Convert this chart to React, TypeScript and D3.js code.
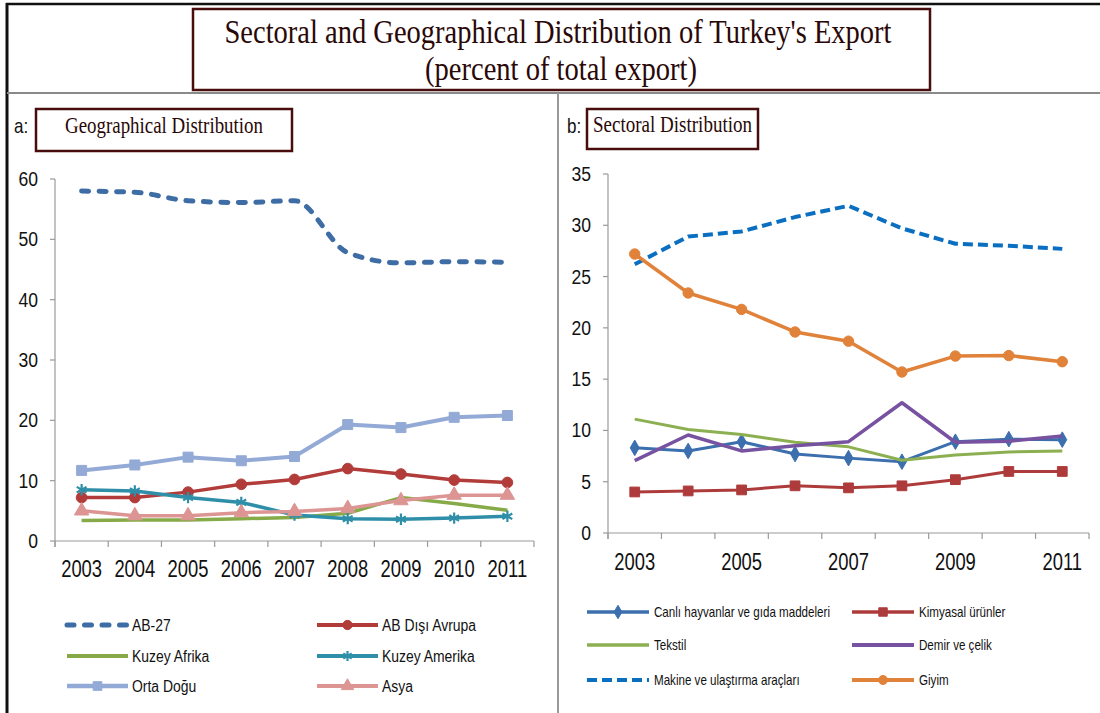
import React from "react";
import * as d3 from "d3";

// years shared by both panels
const years = ["2003", "2004", "2005", "2006", "2007", "2008", "2009", "2010", "2011"];

// a: geographical distribution (% of total export)
const geoAB27 = [58.0, 57.8, 56.4, 56.1, 56.4, 47.8, 46.1, 46.3, 46.2];
const geoABDisi = [7.2, 7.2, 8.1, 9.4, 10.2, 12.0, 11.1, 10.1, 9.7];
const geoKuzeyAfrika = [3.4, 3.5, 3.5, 3.7, 3.9, 4.6, 7.2, 6.2, 5.1];
const geoKuzeyAmerika = [8.5, 8.3, 7.2, 6.4, 4.3, 3.7, 3.6, 3.8, 4.1];
const geoOrtaDogu = [11.7, 12.6, 13.9, 13.3, 14.0, 19.3, 18.8, 20.5, 20.8];
const geoAsya = [5.0, 4.2, 4.2, 4.7, 4.9, 5.4, 6.7, 7.6, 7.6];
const geoYTicks = [0, 10, 20, 30, 40, 50, 60];

// b: sectoral distribution
const secCanli = [8.3, 8.0, 8.9, 7.7, 7.3, 6.95, 8.9, 9.15, 9.1];
const secKimyasal = [4.0, 4.1, 4.2, 4.6, 4.4, 4.6, 5.2, 6.0, 6.0];
const secTekstil = [11.1, 10.1, 9.6, 8.85, 8.4, 7.1, 7.6, 7.9, 8.0];
const secDemir = [7.05, 9.55, 8.0, 8.5, 8.9, 12.7, 8.85, 8.95, 9.45];
const secMakine = [26.2, 28.9, 29.4, 30.8, 31.9, 29.7, 28.2, 28.0, 27.7];
const secGiyim = [27.2, 23.4, 21.8, 19.6, 18.7, 15.7, 17.25, 17.3, 16.7];
const secYTicks = [0, 5, 10, 15, 20, 25, 30, 35];
const secXLabels = ["2003", "2005", "2007", "2009", "2011"];

const SANS = "'Liberation Sans', Arial, sans-serif";
const SERIF = "'Liberation Serif', 'Times New Roman', serif";
const AXIS = "#9a9a9a";
const BOX = "#4a0d0d";

type Series = {
  name: string;
  values: number[];
  color: string;
  width: number;
  dash?: string;
  cap?: string;
  marker?: string;
  msize?: number;
  smooth?: boolean;
};

const geoSeries: Series[] = [
  { name: "AB-27", values: geoAB27, color: "#3e6da6", width: 5, dash: "7,10.5", cap: "round", smooth: true },
  { name: "AB Dışı Avrupa", values: geoABDisi, color: "#b13c3a", width: 3.5, marker: "circle", msize: 90 },
  { name: "Kuzey Afrika", values: geoKuzeyAfrika, color: "#86aa48", width: 3.5 },
  { name: "Kuzey Amerika", values: geoKuzeyAmerika, color: "#2f8fa9", width: 3.5, marker: "asterisk", msize: 90 },
  { name: "Orta Doğu", values: geoOrtaDogu, color: "#93aad6", width: 4, marker: "square", msize: 100 },
  { name: "Asya", values: geoAsya, color: "#dc9593", width: 3.5, marker: "triangle", msize: 90 },
];

const secSeries: Series[] = [
  { name: "Canlı hayvanlar ve gıda maddeleri", values: secCanli, color: "#3c6fae", width: 3, marker: "diamond", msize: 70 },
  { name: "Kimyasal ürünler", values: secKimyasal, color: "#ae3b3b", width: 3, marker: "square", msize: 95 },
  { name: "Tekstil", values: secTekstil, color: "#8cb051", width: 3 },
  { name: "Demir ve çelik", values: secDemir, color: "#7652a0", width: 3.5 },
  { name: "Makine ve ulaştırma araçları", values: secMakine, color: "#0b6fc1", width: 4, dash: "10,5" },
  { name: "Giyim", values: secGiyim, color: "#e0823a", width: 3.5, marker: "circle", msize: 85 },
];

const symbolTypes: Record<string, any> = {
  circle: d3.symbolCircle,
  square: d3.symbolSquare,
  triangle: d3.symbolTriangle,
  diamond: d3.symbolDiamond,
  asterisk: d3.symbolAsterisk,
};

function Marker({ type, x, y, color, size }: any) {
  const path = d3.symbol().type(symbolTypes[type]).size(size)();
  if (type === "asterisk") {
    return <path d={path || ""} transform={`translate(${x},${y})`} fill="none" stroke={color} strokeWidth={2.2} />;
  }
  return <path d={path || ""} transform={`translate(${x},${y})`} fill={color} stroke={color} strokeWidth={1} />;
}

function SText({ x, y, sx = 1, anchor = "start", size, family = SANS, fill = "#111", dy, children }: any) {
  return (
    <text transform={`translate(${x},${y}) scale(${sx},1)`} textAnchor={anchor} fontSize={size} fontFamily={family} fill={fill} dy={dy}>
      {children}
    </text>
  );
}

function Chart({ series, x0, x1, y0, y1, ymax, yTicks, xLabels, xLabelY, ylabelX }: any) {
  const x = d3.scaleBand().domain(years).range([x0, x1]);
  const y = d3.scaleLinear().domain([0, ymax]).range([y0, y1]);
  const cx = (yr: string) => (x(yr) as number) + x.bandwidth() / 2;
  const bounds = years.map((yr) => x(yr) as number).concat([x1]);
  return (
    <g>
      {/* y axis */}
      <line x1={x0} x2={x0} y1={y1} y2={y0 + 6} stroke={AXIS} strokeWidth={1.2} />
      {yTicks.map((t: number) => (
        <g key={t}>
          <line x1={x0 - 5} x2={x0} y1={y(t)} y2={y(t)} stroke={AXIS} strokeWidth={1.2} />
          <SText x={ylabelX} y={y(t)} dy="0.36em" anchor="end" size={19.5} sx={0.9}>{t}</SText>
        </g>
      ))}
      {/* x axis */}
      <line x1={x0} x2={x1} y1={y0} y2={y0} stroke={AXIS} strokeWidth={1.2} />
      {bounds.map((b: number, i: number) => (
        <line key={i} x1={b} x2={b} y1={y0} y2={y0 + 6} stroke={AXIS} strokeWidth={1.2} />
      ))}
      {xLabels.map((yr: string) => (
        <SText key={yr} x={cx(yr)} y={xLabelY} anchor="middle" size={23} sx={0.8}>{yr}</SText>
      ))}
      {/* series */}
      {series.map((s: Series) => {
        const line = d3
          .line<number>()
          .x((_, i) => cx(years[i]))
          .y((v) => y(v))
          .curve(s.smooth ? d3.curveMonotoneX : d3.curveLinear);
        return (
          <g key={s.name}>
            <path d={line(s.values) || ""} fill="none" stroke={s.color} strokeWidth={s.width} strokeDasharray={s.dash} strokeLinecap={(s.cap as any) || "butt"} strokeLinejoin="round" />
            {s.marker && s.values.map((v, i) => <Marker key={i} type={s.marker} x={cx(years[i])} y={y(v)} color={s.color} size={s.msize} />)}
          </g>
        );
      })}
    </g>
  );
}

function Legend({ series, cols, rows, lineLen, textGap, size, sx }: any) {
  return (
    <g>
      {series.map((s: Series, i: number) => {
        const lx = cols[i % 2];
        const ly = rows[Math.floor(i / 2)];
        return (
          <g key={s.name}>
            <line x1={lx} x2={lx + lineLen} y1={ly} y2={ly} stroke={s.color} strokeWidth={s.dash ? s.width : s.width + 0.5} strokeDasharray={s.dash} strokeLinecap={(s.cap as any) || "butt"} />
            {s.marker && <Marker type={s.marker} x={lx + lineLen / 2} y={ly} color={s.color} size={(s.msize || 0) * 0.75} />}
            <SText x={lx + lineLen + textGap} y={ly} dy="0.36em" size={size} sx={sx}>{s.name}</SText>
          </g>
        );
      })}
    </g>
  );
}

export default function App() {
  return (
    <svg width={1100} height={713} style={{ position: "absolute", left: 0, top: 0, background: "#fff" }}>
      {/* frame */}
      <line x1={6} x2={1100} y1={4} y2={4} stroke="#111" strokeWidth={2.5} />
      <line x1={7} x2={7} y1={3} y2={713} stroke="#111" strokeWidth={3} />
      <line x1={7} x2={1100} y1={93} y2={93} stroke="#8a8a8a" strokeWidth={2} />
      <line x1={558} x2={558} y1={93} y2={713} stroke="#9a9a9a" strokeWidth={2} />

      {/* title */}
      <rect x={193} y={9} width={737} height={81} fill="#fff" stroke={BOX} strokeWidth={2.5} />
      <text x={558} y={43} textAnchor="middle" fontFamily={SERIF} fontSize={34} fill="#2a0808" textLength={667} lengthAdjust="spacingAndGlyphs">
        Sectoral and Geographical Distribution of Turkey's Export
      </text>
      <text x={561} y={80} textAnchor="middle" fontFamily={SERIF} fontSize={34} fill="#2a0808" textLength={272} lengthAdjust="spacingAndGlyphs">
        (percent of total export)
      </text>

      {/* panel a */}
      <SText x={14} y={133} size={20} sx={0.85}>a:</SText>
      <rect x={36} y={109} width={256} height={42} fill="#fff" stroke={BOX} strokeWidth={2.5} />
      <text x={65} y={133} fontFamily={SERIF} fontSize={24} fill="#2a0808" textLength={198} lengthAdjust="spacingAndGlyphs">
        Geographical Distribution
      </text>
      <Chart series={geoSeries} x0={55} x1={534} y0={541} y1={179} ymax={60} yTicks={geoYTicks} xLabels={years} xLabelY={577} ylabelX={38} />
      <Legend series={geoSeries} cols={[67, 317]} rows={[625, 656, 686]} lineLen={61} textGap={4} size={16} sx={0.87} />

      {/* panel b */}
      <SText x={567} y={133} size={20} sx={0.85}>b:</SText>
      <rect x={587} y={109} width={171} height={40} fill="#fff" stroke={BOX} strokeWidth={2.5} />
      <text x={593} y={132} fontFamily={SERIF} fontSize={24} fill="#2a0808" textLength={159} lengthAdjust="spacingAndGlyphs">
        Sectoral Distribution
      </text>
      <Chart series={secSeries} x0={608} x1={1089} y0={533} y1={174} ymax={35} yTicks={secYTicks} xLabels={secXLabels} xLabelY={570} ylabelX={591} />
      <Legend series={secSeries} cols={[587, 852]} rows={[612, 645, 680]} lineLen={62} textGap={5} size={14.5} sx={0.8} />
    </svg>
  );
}
